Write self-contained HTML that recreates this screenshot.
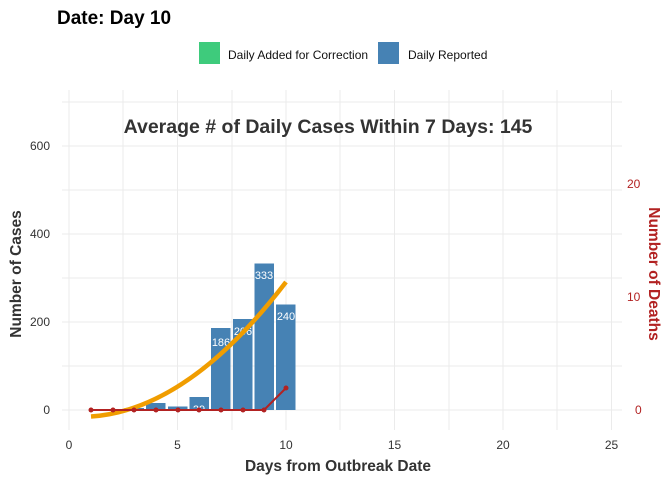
<!DOCTYPE html>
<html><head><style>body{margin:0;background:#fff}svg{display:block;font-family:"Liberation Sans",Arial,sans-serif}</style></head>
<body>
<svg width="672" height="480" xmlns="http://www.w3.org/2000/svg">
<rect width="672" height="480" fill="#fff"/>
<text x="57" y="24" font-size="19" font-weight="bold" fill="#000">Date: Day 10</text>
<rect x="199" y="42" width="21" height="22" fill="#3ECB7C"/>
<text x="228" y="59" font-size="12" fill="#111">Daily Added for Correction</text>
<rect x="378" y="42" width="21" height="22" fill="#4682B4"/>
<text x="408" y="59" font-size="12" fill="#111">Daily Reported</text>
<g stroke="#ebebeb" stroke-width="1">
<line x1="62" y1="102" x2="622" y2="102"/><line x1="62" y1="190" x2="622" y2="190"/><line x1="62" y1="278" x2="622" y2="278"/><line x1="62" y1="366" x2="622" y2="366"/>
<line x1="62" y1="146" x2="622" y2="146"/><line x1="62" y1="234" x2="622" y2="234"/><line x1="62" y1="322" x2="622" y2="322"/><line x1="62" y1="410" x2="622" y2="410"/>
<line x1="69" y1="90" x2="69" y2="430"/><line x1="123" y1="90" x2="123" y2="430"/><line x1="177.5" y1="90" x2="177.5" y2="430"/><line x1="232" y1="90" x2="232" y2="430"/><line x1="286" y1="90" x2="286" y2="430"/><line x1="340" y1="90" x2="340" y2="430"/><line x1="394.5" y1="90" x2="394.5" y2="430"/><line x1="449" y1="90" x2="449" y2="430"/><line x1="503" y1="90" x2="503" y2="430"/><line x1="557" y1="90" x2="557" y2="430"/><line x1="611.5" y1="90" x2="611.5" y2="430"/>
</g>
<g fill="#4682B4">
<rect x="124.5" y="408" width="19.5" height="2"/>
<rect x="146" y="403" width="19.5" height="7"/>
<rect x="168" y="406.5" width="19.5" height="3.5"/>
<rect x="189.5" y="397" width="19.5" height="13"/>
<rect x="211" y="328" width="19.5" height="82"/>
<rect x="233" y="319" width="19.5" height="91"/>
<rect x="254.5" y="263.5" width="19.5" height="146.5"/>
<rect x="276" y="304.5" width="19.5" height="105.5"/>
</g>
<g fill="#fff" font-size="11" text-anchor="middle">
<text x="199" y="413">29</text><text x="221" y="346">186</text><text x="243" y="335">206</text><text x="264" y="279">333</text><text x="286" y="320">240</text>
</g>
<path d="M91,416.5 Q188,410 286,282" stroke="#F09D00" stroke-width="4.5" fill="none"/>
<polyline points="91,410 113,410 134,410 156,410 178,410 199,410 221,410 243,410 264,410 286,388" stroke="#B22222" stroke-width="2" fill="none"/>
<g fill="#B22222"><circle cx="91" cy="410" r="2.5"/><circle cx="113" cy="410" r="2.5"/><circle cx="134" cy="410" r="2.5"/><circle cx="156" cy="410" r="2.5"/><circle cx="178" cy="410" r="2.5"/><circle cx="199" cy="410" r="2.5"/><circle cx="221" cy="410" r="2.5"/><circle cx="243" cy="410" r="2.5"/><circle cx="264" cy="410" r="2.5"/><circle cx="286" cy="388" r="2.5"/></g>
<text x="328" y="133" font-size="19.5" font-weight="bold" fill="#333" text-anchor="middle">Average # of Daily Cases Within 7 Days: 145</text>
<g font-size="12" fill="#333" text-anchor="end">
<text x="50" y="150">600</text><text x="50" y="238">400</text><text x="50" y="326">200</text><text x="50" y="414">0</text>
</g>
<g font-size="12" fill="#333" text-anchor="middle">
<text x="69" y="449">0</text><text x="177.5" y="449">5</text><text x="286" y="449">10</text><text x="394.5" y="449">15</text><text x="503" y="449">20</text><text x="611.5" y="449">25</text>
</g>
<g font-size="12" fill="#B22222">
<text x="627" y="188">20</text><text x="627" y="301">10</text><text x="635" y="414">0</text>
</g>
<text x="338" y="471" font-size="15.5" font-weight="bold" fill="#333" text-anchor="middle">Days from Outbreak Date</text>
<text transform="translate(21,274) rotate(-90)" font-size="15.5" font-weight="bold" fill="#333" text-anchor="middle">Number of Cases</text>
<text transform="translate(649,274) rotate(90)" font-size="15.5" font-weight="bold" fill="#B22222" text-anchor="middle">Number of Deaths</text>
</svg>
</body></html>
